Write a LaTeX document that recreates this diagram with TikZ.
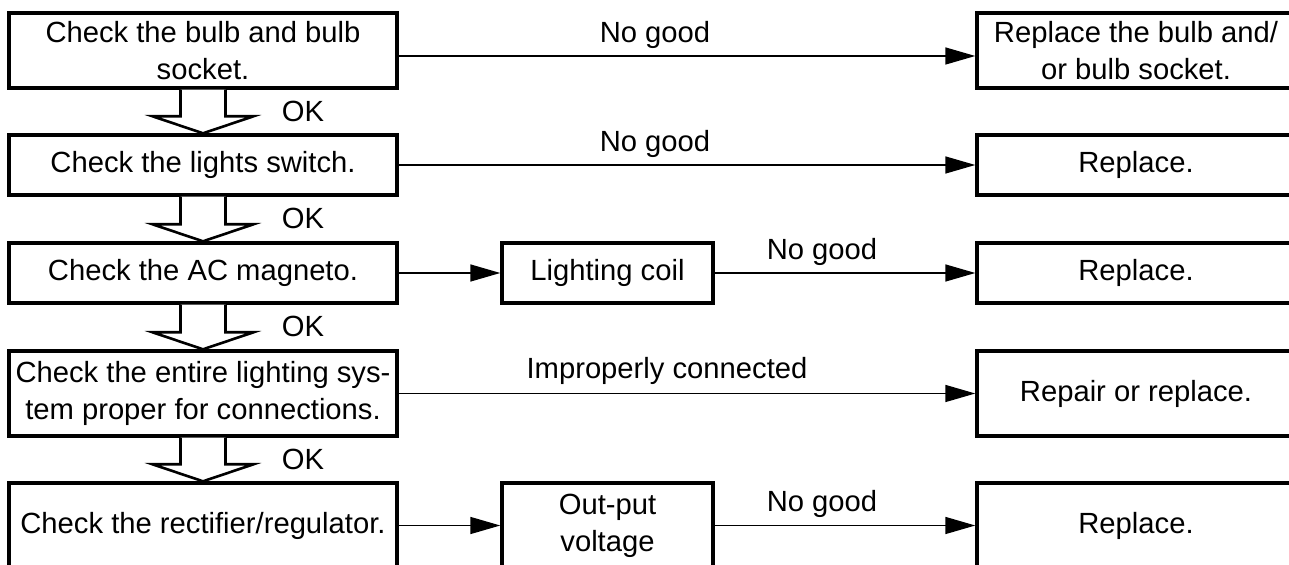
\documentclass[tikz,border=0pt]{standalone}
\usepackage{fontspec}
\setmainfont{Liberation Sans}
\usetikzlibrary{arrows.meta}

\tikzset{
  txt/.style={font=\fontsize{14.6}{18.5}\selectfont},
  box/.style={txt, draw, line width=1.7pt, align=center, inner sep=0pt},
  lbox/.style={box, minimum width=194pt},
  mbox/.style={box, minimum width=105.5pt},
  rbox/.style={box, minimum width=159pt},
  conn/.style={line width=0.75pt, -{Triangle[length=15pt,width=8.5pt]}},
  okarrow/.style={line width=1.3pt, line join=miter, fill=white},
  lbl/.style={txt, inner sep=0pt, anchor=base}
}

\begin{document}
\begin{tikzpicture}[x=0.5pt,y=-0.5pt]
\useasboundingbox (0,0) rectangle (1289,565);

% left column
\node[lbox, minimum height=37.5pt] (l1) at (203,50.5) {Check the bulb and bulb\\socket.};
\node[lbox, minimum height=30pt] (l2) at (203,165) {Check the lights switch.};
\node[lbox, minimum height=30pt] (l3) at (203,273) {Check the AC magneto.};
\node[lbox, minimum height=42.5pt] (l4) at (203,393.5) {Check the entire lighting sys-\\tem proper for connections.};
\node[lbox, minimum height=42.5pt] (l5) at (203,525.5) {Check the rectifier/regulator.};

% middle column
\node[mbox, minimum height=30pt] (m3) at (607.5,273) {Lighting coil};
\node[mbox, minimum height=42.5pt] (m5) at (607.5,525.5) {Out-put\\voltage};

% right column
\node[rbox, minimum height=37.5pt] (r1) at (1136,50.5) {Replace the bulb and/\\or bulb socket.};
\node[rbox, minimum height=30pt] (r2) at (1136,165) {Replace.};
\node[rbox, minimum height=30pt] (r3) at (1136,273) {Replace.};
\node[rbox, minimum height=42.5pt] (r4) at (1136,393.5) {Repair or replace.};
\node[rbox, minimum height=42.5pt] (r5) at (1136,525.5) {Replace.};

% no good branches
\draw[conn] ([yshift=-2.75pt]l1.east) -- ([yshift=-2.75pt]r1.west);
\draw[conn] (l2.east) -- (r2.west);
\draw[conn] (l3.east) -- (m3.west);
\draw[conn] (m3.east) -- (r3.west);
\draw[conn] (l4.east) -- (r4.west);
\draw[conn] (l5.east) -- (m5.west);
\draw[conn] (m5.east) -- (r5.west);

\node[lbl] (ng1) at (655,43) {No good};
\node[lbl] (ng2) at (655,152) {No good};
\node[lbl] (ng3) at (822,260) {No good};
\node[lbl] (ic4) at (667,379) {Improperly connected};
\node[lbl] (ng5) at (822,512) {No good};

% OK block arrows
\foreach \a/\b in {l1/l2,l2/l3,l3/l4,l4/l5} {
  \draw[okarrow] ([xshift=-11.25pt]\a.south) -- ([xshift=-11.25pt,yshift=8.5pt]\b.north)
    -- ([xshift=-25.25pt,yshift=8.5pt]\b.north) -- (\b.north)
    -- ([xshift=25.25pt,yshift=8.5pt]\b.north) -- ([xshift=11.25pt,yshift=8.5pt]\b.north)
    -- ([xshift=11.25pt]\a.south);
  \node[lbl] (ok\a) at ([xshift=50pt,yshift=-16pt]\a.south) {OK};
}
\end{tikzpicture}
\end{document}
